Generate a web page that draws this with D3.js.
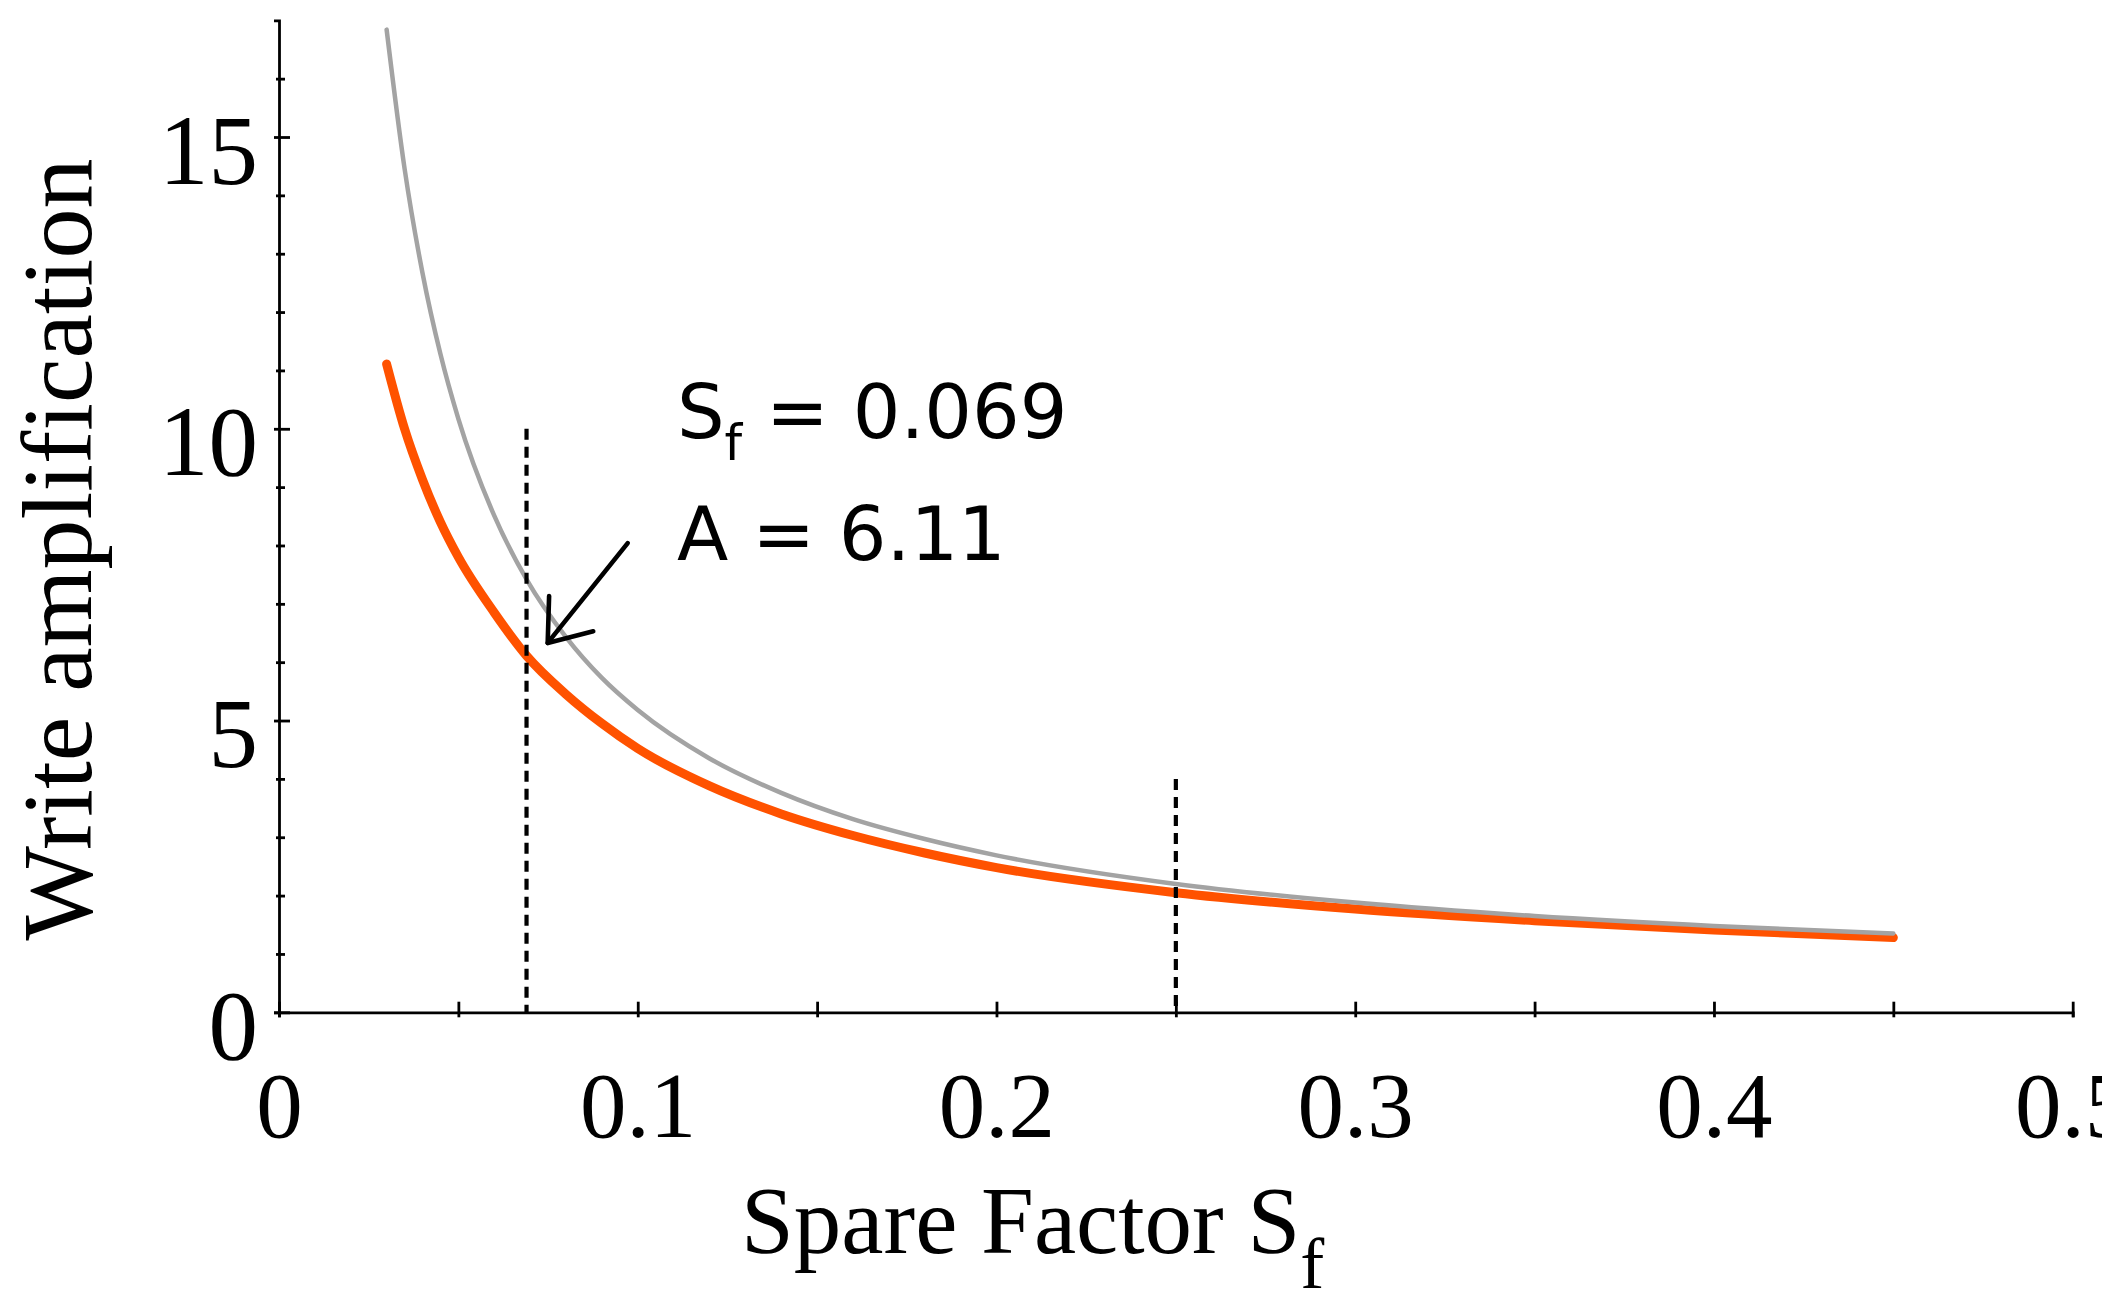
<!DOCTYPE html>
<html>
<head>
<meta charset="utf-8">
<script src="https://cdn.jsdelivr.net/npm/d3@7"></script>
<style>
  html, body { margin: 0; padding: 0; background: #ffffff; }
  svg { display: block; }
</style>
</head>
<body>
<script>
// Spare factor sample points shared by both curves
const spareFactor = [0.03, 0.035, 0.04, 0.045, 0.05, 0.06, 0.069, 0.08, 0.09, 0.10,
                     0.12, 0.14, 0.16, 0.18, 0.20, 0.25, 0.30, 0.35, 0.40, 0.45];
// Upper (grey) write-amplification curve
const writeAmpUpper = [16.84, 14.46, 12.67, 11.28, 10.17, 8.51, 7.42, 6.43, 5.73, 5.18,
                       4.35, 3.76, 3.31, 2.97, 2.69, 2.20, 1.88, 1.65, 1.48, 1.35];
// Lower (orange) write-amplification curve
const writeAmpLower = [11.11, 10.00, 9.13, 8.40, 7.80, 6.85, 6.11, 5.45, 4.95, 4.52,
                       3.88, 3.40, 3.03, 2.73, 2.48, 2.05, 1.77, 1.57, 1.41, 1.28];

// Vertical dashed reference lines: spare factor and height
const markerSf = [0.069, 0.25];
const markerTop = [10, 4];

// Axis ticks
const xTicks = [0, 0.05, 0.1, 0.15, 0.2, 0.25, 0.3, 0.35, 0.4, 0.45, 0.5];
const xTickLabels = ["0", "", "0.1", "", "0.2", "", "0.3", "", "0.4", "", "0.5"];
const yMajorTicks = [0, 5, 10, 15];
const yMajorLabels = ["0", "5", "10", "15"];
const yMinorTicks = [1, 2, 3, 4, 6, 7, 8, 9, 11, 12, 13, 14, 16];

// Annotation values
const annotSf = "0.069";
const annotA = "6.11";
const arrowTail = [0.0972, 8.04];
const arrowTip = [0.0749, 6.33];

const W = 2102, H = 1293;
const svg = d3.select("body").append("svg")
  .attr("width", W).attr("height", H)
  .attr("viewBox", `0 0 ${W} ${H}`);

const x = d3.scaleLinear().domain([0, 0.5]).range([279, 2072.7]);
const y = d3.scaleLinear().domain([0, 17]).range([1012.3, 20.3]);

const serif = "'Liberation Serif', 'Times New Roman', serif";
const sans = "'DejaVu Sans', 'Open Sans', sans-serif";

// ---- Curves ----
const line = d3.line()
  .x(d => x(d[0]))
  .y(d => y(d[1]))
  .curve(d3.curveMonotoneX);

const lowerPts = spareFactor.map((s, i) => [s, writeAmpLower[i]]);
const upperPts = spareFactor.map((s, i) => [s, writeAmpUpper[i]]);

svg.append("path")
  .datum(lowerPts)
  .attr("d", line)
  .attr("fill", "none")
  .attr("stroke", "#ff5200")
  .attr("stroke-width", 9)
  .attr("stroke-linecap", "round")
  .attr("stroke-linejoin", "round");

svg.append("path")
  .datum(upperPts)
  .attr("d", line)
  .attr("fill", "none")
  .attr("stroke", "#a3a3a3")
  .attr("stroke-width", 4.5)
  .attr("stroke-linecap", "round")
  .attr("stroke-linejoin", "round");

// ---- Dashed markers ----
svg.selectAll("line.marker")
  .data(markerSf.map((s, i) => ({ s, top: markerTop[i] })))
  .join("line")
  .attr("class", "marker")
  .attr("x1", d => x(d.s)).attr("x2", d => x(d.s))
  .attr("y1", d => y(d.top)).attr("y2", y(0))
  .attr("stroke", "#000")
  .attr("stroke-width", 4.2)
  .attr("stroke-dasharray", "11 7");

// ---- Axes ----
const axisStroke = 2.8;

const xAxis = svg.append("g")
  .attr("transform", `translate(0,${y(0)})`)
  .call(d3.axisBottom(x)
    .tickValues(xTicks)
    .tickSizeOuter(0)
    .tickSize(5)
    .tickFormat((d, i) => xTickLabels[i]));
xAxis.select(".domain").attr("stroke-width", axisStroke).attr("stroke", "#000");
xAxis.selectAll(".tick line")
  .attr("y1", -10.6).attr("y2", 5)
  .attr("stroke-width", axisStroke).attr("stroke", "#000");
xAxis.selectAll(".tick text")
  .attr("y", 125).attr("dy", null)
  .attr("font-family", serif).attr("font-size", 93)
  .attr("fill", "#000");

const yMinor = svg.append("g")
  .attr("transform", `translate(${x(0)},0)`)
  .call(d3.axisLeft(y)
    .tickValues(yMinorTicks)
    .tickSizeOuter(0)
    .tickSize(3)
    .tickFormat(""));
yMinor.select(".domain").remove();
yMinor.selectAll(".tick line")
  .attr("x1", -3).attr("x2", 6)
  .attr("stroke-width", axisStroke).attr("stroke", "#000");

const yAxis = svg.append("g")
  .attr("transform", `translate(${x(0)},0)`)
  .call(d3.axisLeft(y)
    .tickValues(yMajorTicks)
    .tickSizeOuter(0)
    .tickSize(5)
    .tickFormat((d, i) => yMajorLabels[i]));
yAxis.select(".domain").attr("stroke-width", axisStroke).attr("stroke", "#000");
yAxis.selectAll(".tick line")
  .attr("x1", -5).attr("x2", 11)
  .attr("stroke-width", axisStroke).attr("stroke", "#000");
yAxis.selectAll(".tick text")
  .attr("x", -21).attr("y", 46).attr("dy", null)
  .attr("font-family", serif).attr("font-size", 99)
  .attr("fill", "#000");

// ---- Axis titles ----
const xTitle = svg.append("text")
  .attr("x", 741).attr("y", 1253)
  .attr("font-family", serif).attr("font-size", 95)
  .attr("fill", "#000");
xTitle.append("tspan").text("Spare Factor S");
xTitle.append("tspan").attr("dy", 35).attr("font-size", 72).text("f");

svg.append("text")
  .attr("transform", `translate(91,${(154 + 945) / 2}) rotate(-90)`)
  .attr("text-anchor", "middle")
  .attr("font-family", serif).attr("font-size", 100)
  .attr("fill", "#000")
  .text("Write amplification");

// ---- Annotation ----
const ann1 = svg.append("text")
  .attr("x", 677).attr("y", 438)
  .attr("font-family", sans).attr("font-size", 75)
  .attr("fill", "#000");
ann1.append("tspan").text("S");
ann1.append("tspan").attr("dy", 22).attr("font-size", 50).text("f");
ann1.append("tspan").attr("dy", -22).text("\u00a0=\u00a0" + annotSf);

svg.append("text")
  .attr("x", 677).attr("y", 560)
  .attr("font-family", sans).attr("font-size", 75)
  .attr("fill", "#000")
  .text("A\u00a0=\u00a0" + annotA);

// Arrow pointing at the marked operating point
const tx = x(arrowTip[0]), ty = y(arrowTip[1]);
const sx = x(arrowTail[0]), sy = y(arrowTail[1]);
const len = Math.hypot(sx - tx, sy - ty);
const bx = (sx - tx) / len, by = (sy - ty) / len;
const headLen = 47, headAng = 37 * Math.PI / 180;
const rot = a => [bx * Math.cos(a) - by * Math.sin(a), bx * Math.sin(a) + by * Math.cos(a)];
const h1 = rot(headAng), h2 = rot(-headAng);

const arrow = svg.append("g")
  .attr("stroke", "#000").attr("stroke-width", 4.6)
  .attr("fill", "none").attr("stroke-linecap", "round").attr("stroke-linejoin", "round");
arrow.append("line").attr("x1", sx).attr("y1", sy).attr("x2", tx).attr("y2", ty);
arrow.append("path")
  .attr("d", `M${tx + h1[0] * headLen},${ty + h1[1] * headLen}L${tx},${ty}L${tx + h2[0] * headLen},${ty + h2[1] * headLen}`);
</script>
</body>
</html>
